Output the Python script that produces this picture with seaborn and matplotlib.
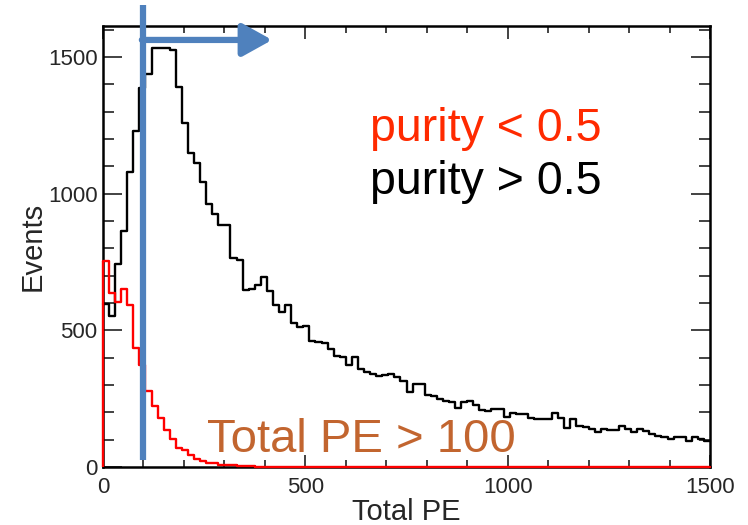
import numpy as np
import pandas as pd
import matplotlib
matplotlib.use("Agg")
import matplotlib.pyplot as plt
import seaborn as sns
from matplotlib.ticker import MultipleLocator

# ---------------- data ----------------
x_min, x_max, bin_width = 0, 1500, 15
n_bins = int((x_max - x_min) / bin_width)
bin_centers = x_min + bin_width * (np.arange(n_bins) + 0.5)

# purity > 0.5 (black)
counts_high_purity = [
    595, 553, 741, 863, 1080, 1229, 1385, 1437, 1532, 1532,
    1532, 1527, 1391, 1257, 1148, 1111, 1044, 961, 924, 884,
    884, 766, 757, 648, 651, 666, 694, 645, 592, 567,
    592, 526, 513, 517, 461, 456, 452, 431, 406, 401,
    373, 401, 357, 349, 340, 333, 335, 340, 330, 316,
    273, 302, 302, 263, 261, 248, 243, 239, 215, 239,
    242, 227, 208, 206, 212, 211, 184, 199, 194, 194,
    178, 175, 174, 174, 199, 178, 141, 175, 150, 145,
    139, 127, 139, 137, 137, 150, 139, 129, 139, 133,
    121, 115, 111, 101, 109, 111, 96, 108, 104, 96,
]

# purity < 0.5 (red)
counts_low_purity = [
    753, 638, 605, 651, 593, 437, 373, 278, 224, 181,
    137, 101, 70, 62, 44, 28, 22, 16, 13, 9,
    8, 6, 4, 3, 2, 1, 0, 0, 0, 0,
    0, 0, 0, 0, 0, 0, 0, 0, 0, 0,
    0, 0, 0, 0, 0, 0, 0, 0, 0, 0,
    0, 0, 0, 0, 0, 0, 0, 0, 0, 0,
    0, 0, 0, 0, 0, 0, 0, 0, 0, 0,
    0, 0, 0, 0, 0, 0, 0, 0, 0, 0,
    0, 0, 0, 0, 0, 0, 0, 0, 0, 0,
    0, 0, 0, 0, 0, 0, 0, 0, 0, 0,
]

cut_value = 100
x_ticks = [0, 500, 1000, 1500]
y_ticks = [0, 500, 1000, 1500]
label_low = "purity < 0.5"
label_high = "purity > 0.5"
cut_label = "Total PE > 100"

df = pd.DataFrame({"pe": bin_centers,
                   "high": np.asarray(counts_high_purity, dtype=float),
                   "low": np.asarray(counts_low_purity, dtype=float)})

# ---------------- style ----------------
sns.set_style("ticks")
plt.rcParams["font.family"] = ["Liberation Sans", "DejaVu Sans"]

fig = plt.figure(figsize=(7.48, 5.25), dpi=100)
ax = fig.add_axes([103 / 748, 1 - 467 / 525, 607 / 748, 441 / 525])

sns.histplot(data=df, x="pe", weights="high", binwidth=bin_width,
             binrange=(x_min, x_max), element="step",
             fill=False, color="black", linewidth=1.7, ax=ax)
sns.histplot(data=df, x="pe", weights="low", binwidth=bin_width,
             binrange=(x_min, x_max), element="step",
             fill=False, color="#FF0000", linewidth=1.7, ax=ax)
for ln in ax.lines:
    ln.set_clip_on(False)
    ln.set_zorder(3)
ax.vlines(x_min, 0, counts_low_purity[0], color="#FF0000",
          linewidth=1.7, zorder=3, clip_on=False)

ax.set_xlim(x_min, x_max)
ax.set_ylim(0, 1613)

ax.set_xticks(x_ticks)
ax.set_yticks(y_ticks)
ax.xaxis.set_minor_locator(MultipleLocator(100))
ax.yaxis.set_minor_locator(MultipleLocator(100))

ax.tick_params(which="both", direction="in", top=True, right=True,
               labelsize=16, width=1.2, color="#222222")
ax.tick_params(axis="y", which="major", length=14, pad=4)
ax.tick_params(axis="y", which="minor", length=8)
ax.tick_params(axis="x", which="major", length=9, pad=7)
ax.tick_params(axis="x", which="minor", length=5)

for sp in ax.spines.values():
    sp.set_linewidth(1.8)
    sp.set_color("black")

ax.set_xlabel("Total PE", fontsize=21, labelpad=0)
ax.set_ylabel("Events", fontsize=21, labelpad=1)

# texts
ax.text(0.44, 0.739, label_low, transform=ax.transAxes, fontsize=33.5,
        color="#FF2A00", ha="left", va="baseline")
ax.text(0.44, 0.619, label_high, transform=ax.transAxes, fontsize=33.5,
        color="black", ha="left", va="baseline")
ax.text(0.171, 0.034, cut_label, transform=ax.transAxes, fontsize=34,
        color="#C2652F", ha="left", va="baseline", zorder=4)

# cut marker + arrow
blue = "#4F81BD"
ax.plot([cut_value, cut_value], [25, 1690], color=blue, linewidth=4.5,
        solid_capstyle="butt", clip_on=False, zorder=5)
ax.annotate("", xy=(418, 1562), xytext=(cut_value - 4, 1562),
            arrowprops=dict(arrowstyle="-|>,head_length=0.9,head_width=0.5",
                            color=blue, lw=4.5, mutation_scale=20,
                            shrinkA=0, shrinkB=0),
            annotation_clip=False, zorder=5)

fig.savefig("out.png", dpi=100, facecolor="white")
